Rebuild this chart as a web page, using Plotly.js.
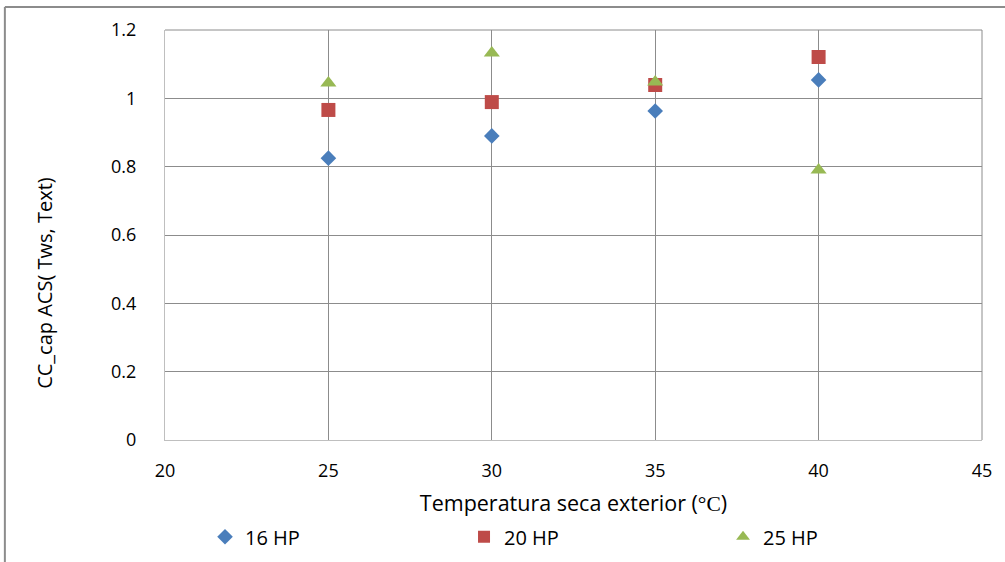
<!DOCTYPE html>
<html>
<head>
<meta charset="utf-8">
<script src="https://cdn.plot.ly/plotly-3.0.1.min.js"></script>
<style>
  html, body { margin: 0; padding: 0; background: #fff; }
  #chart { width: 1005px; height: 562px; }
</style>
</head>
<body>
<div id="chart"></div>
<script>
// Outdoor dry-bulb temperature (°C)
const temps = [25, 30, 35, 40];
// Capacity correction factor per unit size
const hp16 = [0.825, 0.890, 0.963, 1.054];
const hp20 = [0.966, 0.989, 1.039, 1.121];
const hp25 = [1.045, 1.133, 1.048, 0.790];
const seriesNames = ['16 HP', '20 HP', '25 HP'];
const yTitle = 'CC_cap ACS( Tws, Text)';

const font = '"Open Sans", Lato, "Liberation Sans", sans-serif';

const traces = [
  { x: temps, y: hp16, name: seriesNames[0], type: 'scatter', mode: 'markers',
    marker: { symbol: 'diamond', size: 12, color: '#4a7ebb' } },
  { x: temps, y: hp20, name: seriesNames[1], type: 'scatter', mode: 'markers',
    marker: { symbol: 'square', size: 14, color: '#be4b48' } },
  { x: temps, y: hp25, name: seriesNames[2], type: 'scatter', mode: 'markers',
    marker: { symbol: 'triangle-up', size: 14, color: '#98b954' } }
];

const layout = {
  width: 1005, height: 562,
  margin: { l: 165, r: 23, t: 30, b: 122, autoexpand: false },
  paper_bgcolor: '#fff', plot_bgcolor: '#fff',
  font: { family: font, size: 18, color: '#000' },
  showlegend: true,
  legend: {
    orientation: 'h', xref: 'container', yref: 'container',
    x: 0.204, y: 0.045, xanchor: 'left', yanchor: 'middle',
    entrywidth: 214, entrywidthmode: 'pixels',
    font: { family: font, size: 20, color: '#000' },
    itemwidth: 30, itemsizing: 'constant', tracegroupgap: 0
  },
  xaxis: {
    range: [20, 45], dtick: 5, tick0: 20,
    showgrid: true, gridcolor: '#8c8c8c', gridwidth: 1,
    zeroline: false, showline: true, linecolor: '#bfbfbf', mirror: false,
    ticks: 'outside', ticklen: 14, tickcolor: 'rgba(0,0,0,0)',
    tickfont: { family: font, size: 18, color: '#000' },
    automargin: false,
    title: { text: 'Temperatura seca exterior (<span style="font-family:\'Liberation Serif\', serif">°C</span>)',
             font: { family: font, size: 21.5, color: '#000' }, standoff: 25 }
  },
  yaxis: {
    range: [0, 1.2], dtick: 0.2, tick0: 0,
    showgrid: true, gridcolor: '#8c8c8c', gridwidth: 1,
    zeroline: false, showline: true, linecolor: '#bfbfbf',
    ticks: 'outside', ticklen: 24, tickcolor: 'rgba(0,0,0,0)',
    tickfont: { family: font, size: 18, color: '#000' },
    automargin: false
  },
  // y-axis title, centred on the chart area rather than the plot area
  annotations: [
    { text: yTitle, xref: 'paper', yref: 'paper', x: -0.147, y: 0.383,
      xanchor: 'center', yanchor: 'middle', textangle: -90, showarrow: false,
      font: { family: font, size: 20, color: '#000' } }
  ],
  shapes: [
    // right edge of the plotting area
    { type: 'line', xref: 'paper', yref: 'paper', x0: 1, x1: 1, y0: 0, y1: 1,
      line: { color: '#8c8c8c', width: 1 } },
    // top edge of the plotting area
    { type: 'line', xref: 'paper', yref: 'paper', x0: 0, x1: 1, y0: 1, y1: 1,
      line: { color: '#8c8c8c', width: 1 } },
    // chart frame: top and left edges
    { type: 'line', xref: 'paper', yref: 'paper', x0: -0.196, x1: 1.05, y0: 1.056, y1: 1.056,
      line: { color: '#8c8c8c', width: 2 } },
    { type: 'line', xref: 'paper', yref: 'paper', x0: -0.196, x1: -0.196, y0: 1.056, y1: -0.3,
      line: { color: '#8c8c8c', width: 2 } }
  ]
};

Plotly.newPlot('chart', traces, layout, { displayModeBar: false, staticPlot: true });
</script>
</body>
</html>
